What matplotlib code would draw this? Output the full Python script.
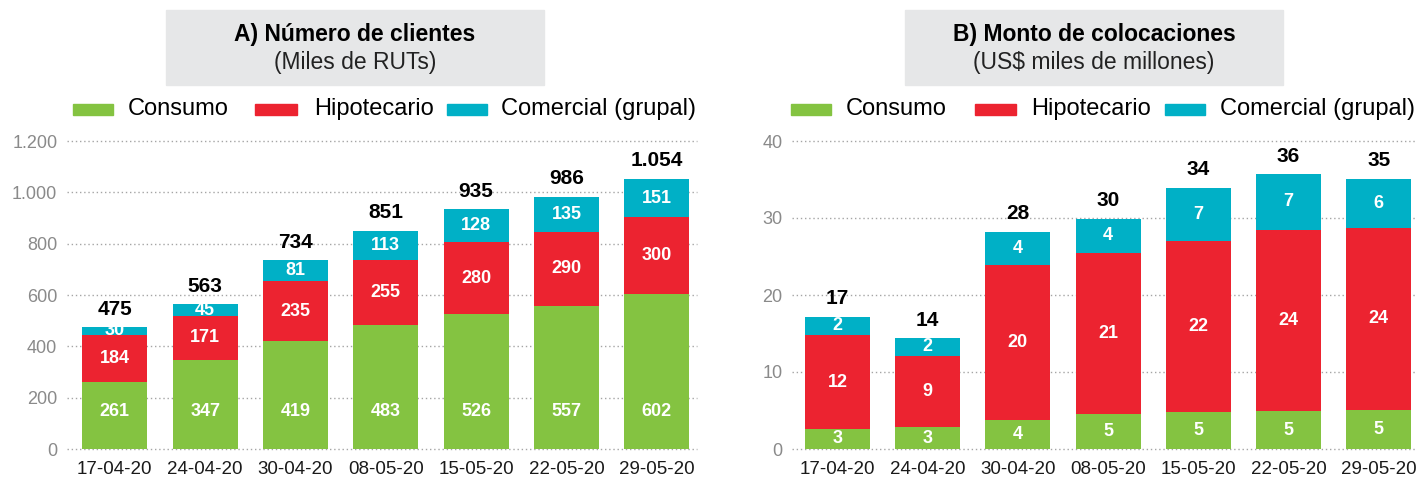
import matplotlib
matplotlib.use("Agg")
import matplotlib.pyplot as plt
from matplotlib.patches import Rectangle

plt.rcParams['font.family'] = ['Liberation Sans', 'DejaVu Sans']

# Data
fechas = ["17-04-20", "24-04-20", "30-04-20", "08-05-20", "15-05-20", "22-05-20", "29-05-20"]

# A) Numero de clientes (miles de RUTs)
clientes_consumo = [261, 347, 419, 483, 526, 557, 602]
clientes_hipotecario = [184, 171, 235, 255, 280, 290, 300]
clientes_comercial = [30, 45, 81, 113, 128, 135, 151]
clientes_total = [475, 563, 734, 851, 935, 986, 1054]

# B) Monto de colocaciones (US$ miles de millones)
monto_consumo = [2.6, 2.8, 3.8, 4.6, 4.8, 4.9, 5.1]
monto_hipotecario = [12.2, 9.3, 20.1, 20.9, 22.2, 23.6, 23.6]
monto_comercial = [2.4, 2.3, 4.3, 4.4, 6.9, 7.2, 6.4]

series = ["Consumo", "Hipotecario", "Comercial (grupal)"]
colores = ["#84c341", "#ec2330", "#00b0c6"]

W, H = 1417, 483
fig = plt.figure(figsize=(W / 100, H / 100), dpi=100)


def fx(x):
    return x / W


def fy(y):
    return 1 - y / H


def miles(v):
    return f"{v:,.0f}".replace(",", ".")


def dibujar_panel(rect, xlim, ymax, yticks, valores, totales, titulo, subtitulo,
                  caja, leyenda, label_consumo_fijo=None):
    ax = fig.add_axes(rect)
    x = list(range(len(fechas)))
    base = [0] * len(fechas)
    for vals, color in zip(valores, colores):
        ax.bar(x, vals, bottom=base, width=0.72, color=color, zorder=2)
        base = [b + v for b, v in zip(base, vals)]

    # segment labels
    for i in x:
        b = 0
        for k, vals in enumerate(valores):
            v = vals[i]
            y = b + v / 2
            if k == 0 and label_consumo_fijo is not None:
                y = label_consumo_fijo
            ax.text(i, y, miles(v), ha="center", va="center", color="white",
                    fontsize=13, fontweight="bold", zorder=3)
            b += v
        ax.annotate(miles(totales[i]), (i, base[i]), xytext=(0, 13),
                    textcoords="offset points", ha="center", va="center",
                    fontsize=15, fontweight="bold", color="black")

    ax.set_xlim(*xlim)
    ax.set_ylim(0, ymax)
    ax.set_yticks(yticks)
    ax.set_yticklabels([miles(t) for t in yticks])
    ax.set_xticks(x)
    ax.set_xticklabels(fechas)
    for s in ax.spines.values():
        s.set_visible(False)
    ax.tick_params(axis="y", length=0, pad=7, labelsize=13, labelcolor="#8a8a8a")
    ax.tick_params(axis="x", length=0, pad=9, labelsize=13.5, labelcolor="#1a1a1a")
    for t in yticks:
        ax.axhline(t, color="#a5a5a5", lw=1.0, ls=(0, (1, 2)), zorder=1, clip_on=False)

    # title box
    x0, x1, y0, y1 = caja
    fig.patches.append(Rectangle((fx(x0), fy(y1)), fx(x1 - x0), (y1 - y0) / H,
                                 transform=fig.transFigure, color="#e6e7e8", zorder=0))
    cx = fx((x0 + x1) / 2)
    fig.text(cx, fy(35), titulo, ha="center", va="center", fontsize=16.5, fontweight="bold")
    fig.text(cx, fy(63), subtitulo, ha="center", va="center", fontsize=16.5, color="#222222")

    # legend
    for (p0, p1, tx), nombre, color in zip(leyenda, series, colores):
        fig.patches.append(Rectangle((fx(p0), fy(115)), fx(p1 - p0), 11 / H,
                                     transform=fig.transFigure, color=color))
        fig.text(fx(tx), fy(109), nombre, ha="left", va="center", fontsize=17)
    return ax


bottom = fy(449)
height = (449 - 141) / H

dibujar_panel([fx(67), bottom, fx(697 - 67), height], (-0.53, 6.445), 1200,
              [0, 200, 400, 600, 800, 1000, 1200],
              [clientes_consumo, clientes_hipotecario, clientes_comercial],
              clientes_total, "A) Número de clientes", "(Miles de RUTs)",
              (166, 544, 10, 85),
              [(73, 113, 128), (255, 297, 314), (447, 487, 501)],
              label_consumo_fijo=148)

monto_total = [c + h + m for c, h, m in zip(monto_consumo, monto_hipotecario, monto_comercial)]
dibujar_panel([fx(792), bottom, fx(1417 - 792), height], (-0.505, 6.425), 40,
              [0, 10, 20, 30, 40],
              [monto_consumo, monto_hipotecario, monto_comercial],
              monto_total, "B) Monto de colocaciones", "(US$ miles de millones)",
              (905, 1283, 10, 85),
              [(791, 831, 846), (975, 1016, 1031), (1165, 1205, 1220)])

fig.savefig("out.png", dpi=100)
